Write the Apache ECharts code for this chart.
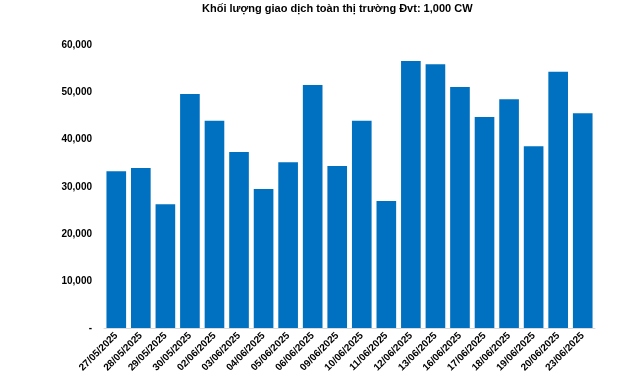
<!DOCTYPE html>
<html><head><meta charset="utf-8">
<script src="https://cdn.jsdelivr.net/npm/echarts@6/dist/echarts.min.js"></script>
<style>html,body{margin:0;padding:0;background:#fff}#c{width:639px;height:380px}</style>
</head><body><div id="c"></div>
<script>
const titleText = 'Khối lượng giao dịch toàn thị trường Đvt: 1,000 CW';
const categories = ['27/05/2025','28/05/2025','29/05/2025','30/05/2025','02/06/2025','03/06/2025','04/06/2025','05/06/2025','06/06/2025','09/06/2025','10/06/2025','11/06/2025','12/06/2025','13/06/2025','16/06/2025','17/06/2025','18/06/2025','19/06/2025','20/06/2025','23/06/2025'];
const volumes = [33300,34000,26300,49700,44000,37400,29500,35200,51600,34400,44000,27000,56700,56000,51200,44800,48600,38600,54400,45600];
const yMin = 0, yMax = 60000, yStep = 10000;

const chart = echarts.init(document.getElementById('c'), null, {renderer:'canvas'});
chart.setOption({
  animation:false,
  backgroundColor:'#fff',
  title:{text:titleText, left:202, top:3, padding:0,
    textStyle:{fontFamily:'Liberation Sans, Arial, sans-serif', fontSize:11, fontWeight:'bold', color:'#000'}},
  grid:{left:104, right:44, top:45.5, bottom:52, containLabel:false},
  xAxis:{type:'category', data:categories,
    axisLine:{show:true, lineStyle:{color:'#d9d9d9', width:1}},
    axisTick:{show:false},
    axisLabel:{rotate:45, interval:0, margin:6, color:'#000',
      fontFamily:'Liberation Sans, Arial, sans-serif', fontSize:10, fontWeight:'bold'}},
  yAxis:{type:'value', min:yMin, max:yMax, interval:yStep,
    axisLine:{show:false}, axisTick:{show:false}, splitLine:{show:false},
    axisLabel:{margin:12, color:'#000', fontFamily:'Liberation Sans, Arial, sans-serif', fontSize:10, fontWeight:'bold',
      formatter:v => v === 0 ? '-' : v.toLocaleString('en-US')}},
  series:[{type:'bar', data:volumes, barCategoryGap:'20%', itemStyle:{color:'#0070C0'}}]
});
</script></body></html>
